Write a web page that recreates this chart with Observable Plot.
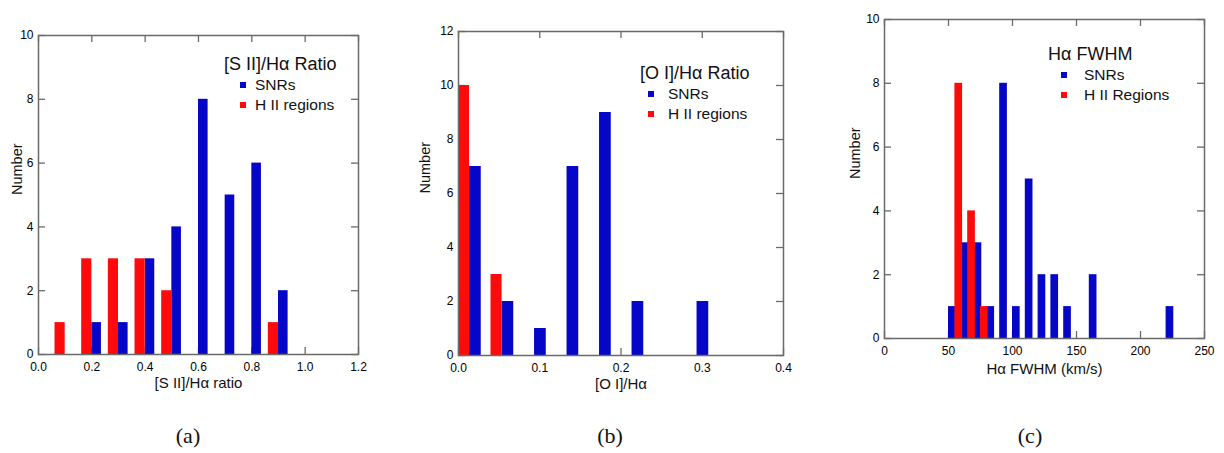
<!DOCTYPE html>
<html>
<head>
<meta charset="utf-8">
<script src="https://cdn.jsdelivr.net/npm/d3@7"></script>
<script src="https://cdn.jsdelivr.net/npm/@observablehq/plot@0.6"></script>
<style>
  body { margin: 0; background: #fff; }
  #fig { position: relative; width: 1224px; height: 453px; font-family: "Liberation Sans", Arial, sans-serif; color: #111; }
  .panel { position: absolute; top: 0; }
  .legend { position: absolute; color: #111; white-space: nowrap; }
  .legend .ttl { font-size: 18px; height: 21px; line-height: 21px; }
  .legend .row { position: relative; font-size: 15.5px; height: 20px; line-height: 20px; }
  .legend .sw { position: absolute; top: 7px; width: 6px; height: 6px; }
  .legend .lb { position: absolute; top: 0; }
  .caption { position: absolute; font-family: "Liberation Serif", "DejaVu Serif", serif; font-size: 22px; transform: translate(-50%, -50%); }
</style>
</head>
<body>
<div id="fig"></div>
<script>
// Histogram bins (left/centre value of each bin) and counts per population
const siiBins = [0.1, 0.2, 0.3, 0.4, 0.5, 0.6, 0.7, 0.8, 0.9];
const siiSNR  = [0, 1, 1, 3, 4, 8, 5, 6, 2];
const siiHII  = [1, 3, 3, 3, 2, 0, 0, 0, 1];

const oiBins = [0.00, 0.04, 0.08, 0.12, 0.16, 0.20, 0.28];
const oiSNR  = [7, 2, 1, 7, 9, 2, 2];
const oiHII  = [10, 3, 0, 0, 0, 0, 0];

const fwhmBins = [50, 60, 70, 80, 90, 100, 110, 120, 130, 140, 160, 220];
const fwhmSNR  = [1, 3, 3, 1, 8, 1, 5, 2, 2, 1, 2, 1];
const fwhmHII  = [8, 4, 1, 0, 0, 0, 0, 0, 0, 0, 0, 0];

const siiXTicks = [0, 0.2, 0.4, 0.6, 0.8, 1.0, 1.2];
const siiYTicks = [0, 2, 4, 6, 8, 10];
const oiXTicks = [0, 0.1, 0.2, 0.3, 0.4];
const oiYTicks = [0, 2, 4, 6, 8, 10, 12];
const fwhmXTicks = [0, 50, 100, 150, 200, 250];
const fwhmYTicks = [0, 2, 4, 6, 8, 10];

const BLUE = "#0606c8";
const RED = "#ff0a0a";
const FRAME = "#6a6a6a";
const TICK_LEN = 7;

function rows(bins, counts, span) {
  return bins.map((b, i) => ({x1: b + span[0], x2: b + span[1], n: counts[i]})).filter(d => d.n > 0);
}

function histogram(o) {
  const m = o.margin;
  const fw = o.width - m.left - m.right;
  const fh = o.height - m.top - m.bottom;
  const tickStyle = {stroke: FRAME, strokeWidth: 1.3};
  return Plot.plot({
    width: o.width, height: o.height,
    marginLeft: m.left, marginRight: m.right, marginTop: m.top, marginBottom: m.bottom,
    style: {fontFamily: "'Liberation Sans', Arial, sans-serif", fontSize: "12px", color: "#000", background: "transparent"},
    x: {domain: o.xDomain},
    y: {domain: o.yDomain},
    marks: [
      // inward ticks on all four sides
      Plot.tickX(o.xTicks, {x: d => d, insetTop: fh - TICK_LEN, ...tickStyle}),
      Plot.tickX(o.xTicks, {x: d => d, insetBottom: fh - TICK_LEN, ...tickStyle}),
      Plot.tickY(o.yTicks, {y: d => d, insetRight: fw - TICK_LEN, ...tickStyle}),
      Plot.tickY(o.yTicks, {y: d => d, insetLeft: fw - TICK_LEN, ...tickStyle}),
      Plot.rectY(rows(o.bins, o.snr, o.snrSpan), {x1: "x1", x2: "x2", y: "n", fill: BLUE}),
      Plot.rectY(rows(o.bins, o.hii, o.hiiSpan), {x1: "x1", x2: "x2", y: "n", fill: RED}),
      Plot.axisX({ticks: o.xTicks, tickSize: 0, tickPadding: 8, tickFormat: o.xFormat, label: null}),
      Plot.axisY({ticks: o.yTicks, tickSize: 0, tickPadding: 5, tickFormat: d => String(d), label: null}),
      Plot.text([o.xLabel], {text: d => d, frameAnchor: "bottom", dy: o.xLabelDy, fontSize: 15, fill: "#111"}),
      Plot.text(["Number"], {text: d => d, frameAnchor: "left", dx: -o.yLabelDx, rotate: -90, fontSize: 14.5, fill: "#111"}),
      Plot.frame({stroke: FRAME, strokeWidth: 1.5})
    ]
  });
}

const fig = document.getElementById("fig");

function place(node, left) {
  node.classList.add("panel");
  node.style.left = left + "px";
  fig.appendChild(node);
}

place(histogram({
  width: 370, height: 410, margin: {left: 38, right: 12, top: 35, bottom: 56},
  xDomain: [0, 1.2], yDomain: [0, 10], xTicks: siiXTicks, yTicks: siiYTicks,
  xFormat: d3.format(".1f"),
  bins: siiBins, snr: siiSNR, hii: siiHII,
  snrSpan: [0, 0.036], hiiSpan: [-0.038, 0],
  xLabel: "[S II]/Hα ratio", xLabelDy: 33, yLabelDx: 21
}), 0);

place(histogram({
  width: 400, height: 410, margin: {left: 58, right: 17, top: 31, bottom: 55},
  xDomain: [0, 0.4], yDomain: [0, 12], xTicks: oiXTicks, yTicks: oiYTicks,
  xFormat: d3.format(".1f"),
  bins: oiBins, snr: oiSNR, hii: oiHII,
  snrSpan: [0.0136, 0.028], hiiSpan: [0, 0.0136],
  xLabel: "[O I]/Hα", xLabelDy: 33, yLabelDx: 33
}), 400);

place(histogram({
  width: 404, height: 410, margin: {left: 64, right: 20, top: 19, bottom: 72},
  xDomain: [0, 250], yDomain: [0, 10], xTicks: fwhmXTicks, yTicks: fwhmYTicks,
  xFormat: d => String(d),
  bins: fwhmBins, snr: fwhmSNR, hii: fwhmHII,
  snrSpan: [0, 6], hiiSpan: [5, 11],
  xLabel: "Hα FWHM (km/s)", xLabelDy: 35, yLabelDx: 29
}), 820);

// Legends inside each panel
function legend(left, top, title, entries, swatchX, textX) {
  const el = document.createElement("div");
  el.className = "legend";
  el.style.left = left + "px";
  el.style.top = top + "px";
  const t = document.createElement("div");
  t.className = "ttl";
  t.textContent = title;
  el.appendChild(t);
  for (const [label, color] of entries) {
    const r = document.createElement("div");
    r.className = "row";
    const sw = document.createElement("div");
    sw.className = "sw";
    sw.style.left = swatchX + "px";
    sw.style.background = color;
    const lb = document.createElement("div");
    lb.className = "lb";
    lb.style.left = textX + "px";
    lb.textContent = label;
    r.appendChild(sw);
    r.appendChild(lb);
    el.appendChild(r);
  }
  fig.appendChild(el);
}

legend(224, 54, "[S II]/Hα Ratio", [["SNRs", BLUE], ["H II regions", RED]], 16, 31);
legend(640, 62.5, "[O I]/Hα Ratio", [["SNRs", BLUE], ["H II regions", RED]], 8, 28);
legend(1048, 43.5, "Hα FWHM", [["SNRs", BLUE], ["H II Regions", RED]], 13, 36);

// Sub-figure captions
for (const [label, cx] of [["(a)", 188], ["(b)", 610], ["(c)", 1030]]) {
  const c = document.createElement("div");
  c.className = "caption";
  c.style.left = cx + "px";
  c.style.top = "436px";
  c.textContent = label;
  fig.appendChild(c);
}
</script>
</body>
</html>
